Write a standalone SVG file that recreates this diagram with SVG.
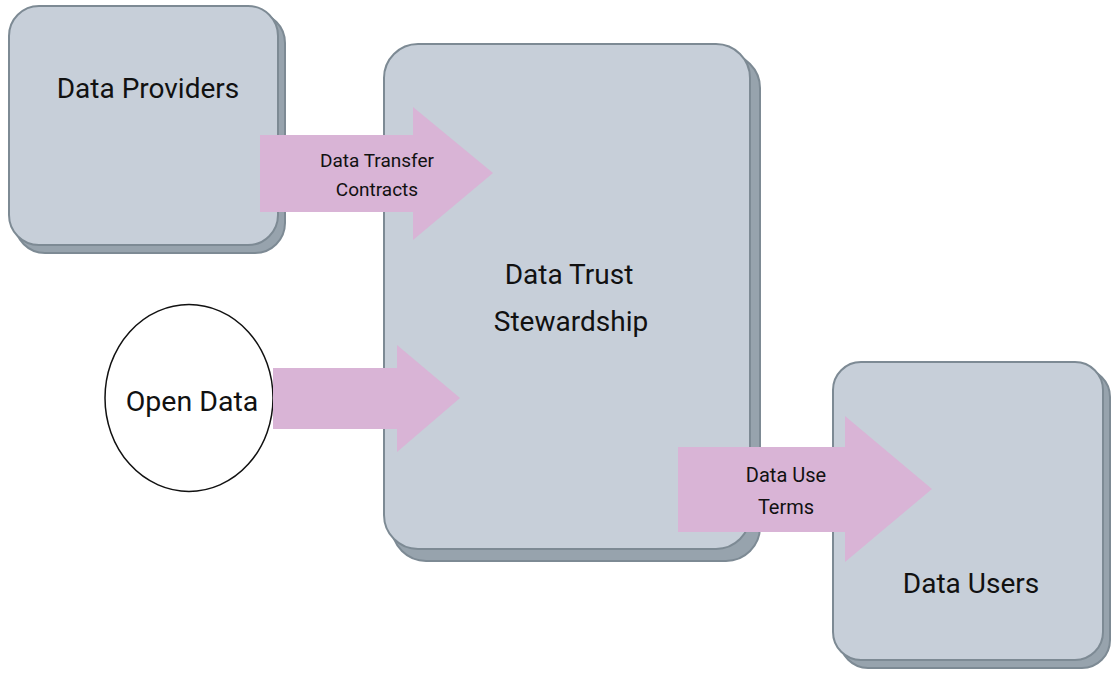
<svg xmlns="http://www.w3.org/2000/svg" width="1115" height="673" viewBox="0 0 1115 673">
<style>
.shadow{fill:#97a3ad;stroke:#7d8a94;stroke-width:2}
.box{fill:#c7cfd9;stroke:#7d8a94;stroke-width:2}
.arrow{fill:#d9b4d6}
text{font-family:Roboto,"Liberation Sans",sans-serif;fill:#111;text-anchor:middle}
.big{font-size:28px}
.small{font-size:19px}
</style>
<rect width="1115" height="673" fill="#fff"/>
<g id="data-providers">
<rect class="shadow" x="15" y="13" width="270" height="240" rx="30"/>
<rect class="box" x="9" y="6" width="269" height="239" rx="30"/>
<text class="big" x="148" y="98">Data Providers</text>
</g>
<g id="data-trust">
<rect class="shadow" x="392" y="54" width="368" height="507" rx="34"/>
<rect class="box" x="384" y="44" width="366" height="505" rx="34"/>
<text class="big" x="569" y="284">Data Trust</text>
<text class="big" x="571" y="331">Stewardship</text>
</g>
<g id="data-users">
<rect class="shadow" x="840" y="369" width="270" height="299" rx="28"/>
<rect class="box" x="833" y="362" width="270" height="298" rx="28"/>
<text class="big" x="971" y="593">Data Users</text>
</g>
<g id="open-data">
<ellipse cx="189" cy="398" rx="84" ry="93.5" fill="#fff" stroke="#111" stroke-width="1.5"/>
<text class="big" x="192" y="411" style="font-size:28.5px">Open Data</text>
</g>
<g id="connectors">
<g id="arrow-transfer">
<polygon class="arrow" points="260,135 413,135 413,107 493,173 413,240 413,212 260,212"/>
<text class="small" x="377" y="167">Data Transfer</text>
<text class="small" x="377" y="196">Contracts</text>
</g>
<g id="arrow-open">
<polygon class="arrow" points="273,368 397,368 397,345 460,398 397,452 397,429 273,429"/>
</g>
<g id="arrow-use">
<polygon class="arrow" points="678,447 845,447 845,416 932,489 845,562 845,532 678,532"/>
<text class="small" x="786" y="482" style="font-size:20px">Data Use</text>
<text class="small" x="786" y="514" style="font-size:20px">Terms</text>
</g>
</g>
</svg>
